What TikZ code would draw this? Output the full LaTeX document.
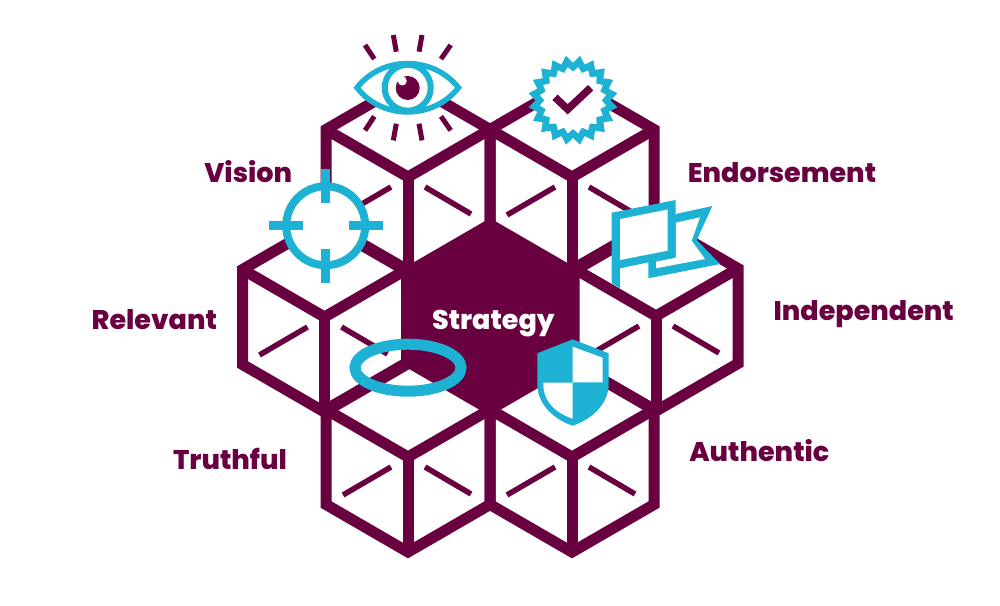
\documentclass[tikz,border=0pt]{standalone}
\usepackage{fontspec}
\setmainfont{Poppins}[BoldFont={Poppins ExtraBold}]
\usetikzlibrary{shapes.geometric}
\definecolor{plum}{RGB}{105,0,64}
\definecolor{skyblue}{RGB}{29,177,212}
\tikzset{
  cubeline/.style={plum, line width=11pt, line join=miter},
  tickline/.style={plum, line width=5.5pt},
  rayline/.style={plum, line width=5pt},
  iconring/.style={skyblue, line width=5.5pt},
  badgestar/.style={star, star points=20, shape border rotate=9, inner sep=0pt, outer sep=0pt},
  label/.style={plum, font=\bfseries\fontsize{27}{27}\selectfont, inner sep=0pt, anchor=base}
}
\begin{document}
\begin{tikzpicture}[x=1pt, y=-1pt]
  \useasboundingbox (0,0) rectangle (1000,605);

  % Middle hexagon
  \fill[plum] (490,222) -- (572,270) -- (572,364) -- (490,411) -- (408,364) -- (408,270) -- cycle;

  % Six cubes with the ticks on their faces
  \foreach \cx/\cy in {408/177, 572/177, 324.5/317, 656/316, 408/457, 572/457} {
    \draw[cubeline] (\cx,\cy-95) -- (\cx+82,\cy-47.5) -- (\cx+82,\cy+47.5) -- (\cx,\cy+95)
      -- (\cx-82,\cy+47.5) -- (\cx-82,\cy-47.5) -- cycle;
    \draw[cubeline] (\cx-82,\cy-47.5) -- (\cx,\cy) -- (\cx+82,\cy-47.5);
    \draw[cubeline] (\cx,\cy) -- (\cx,\cy+95);
    \draw[tickline] (\cx-17,\cy+10) -- (\cx-65,\cy+38);
    \draw[tickline] (\cx+17,\cy+10) -- (\cx+63,\cy+37);
  }

  % Eye
  \draw[iconring, fill=white] (357,87.7) .. controls (382,55.5) and (433,55.5) .. (458.5,87.7)
    .. controls (433,120) and (382,120) .. cycle;
  \draw[skyblue, line width=6pt, fill=white] (407.7,87.7) circle (23);
  \fill[plum] (407.7,88) circle (12);
  \fill[white] (402.3,81) circle (4.5);
  \foreach \ax/\ay/\bx/\by in {365/45/374.3/59, 393.3/35/396.3/51.7, 422/35/419/51.7, 450.7/45/441/59} {
    \draw[rayline] (\ax,\ay) -- (\bx,\by);
    \draw[rayline] (\ax,175.4-\ay) -- (\bx,175.4-\by);
  }

  % Badge with tick
  \node[badgestar, star point ratio=1.2, minimum size=90pt, fill=skyblue] (badgeout) at (573,100.3) {};
  \node[badgestar, star point ratio=1.17, minimum size=67pt, fill=white] (badgein) at (573,100.3) {};
  \draw[plum, line width=7.5pt] (555,97.3) -- (567.7,109.3) -- (590.7,87.7);

  % Crosshair
  \draw[skyblue, line width=8pt, fill=white] (325.7,225.7) circle (39.5);
  \foreach \a in {0,90,180,270} {
    \draw[skyblue, line width=8.5pt] (325.7,225.7) ++(\a:23) -- ++(\a:34);
  }

  % Flag
  \fill[skyblue] (675.7,214) -- (712.3,206) -- (696.7,240) -- (720,264) -- (648.3,278.3) -- (648.3,261.7) -- cycle;
  \fill[white] (675.7,222.7) -- (700,217.3) -- (691.7,240.7) -- (705,259) -- (656,268.3) -- (656,261.7) -- (675.7,257.7) -- cycle;
  \fill[skyblue] (611.7,212.7) -- (675.7,200) -- (675.7,256.7) -- (620,268.3) -- (620,288.3) -- (611.7,283.3) -- cycle;
  \fill[white] (620,219) -- (667.5,209.5) -- (667.5,250.7) -- (620,260) -- cycle;

  % Halo
  \draw[skyblue, line width=11pt] (408,367.7) ellipse (53 and 23.5);

  % Shield
  \fill[skyblue] (572.7,339.3) -- (608.7,353.3) -- (608.7,384) .. controls (608.7,405) and (590,420) .. (572.7,425.7)
    .. controls (555,420) and (537.3,405) .. (537.3,384) -- (537.3,353.3) -- cycle;
  \fill[white] (572.7,346.7) -- (602.7,357.7) -- (602.7,382.3) -- (572.7,382.3) -- cycle;
  \fill[white] (543.3,382.7) -- (572.7,382.7) -- (572.7,418.7) .. controls (556,413) and (543.3,402) .. (543.3,384) -- cycle;

  % Labels
  \node[label] (vision) at (248.2,182.3) {Vision};
  \node[label] (endorsement) at (782,182.3) {Endorsement};
  \node[label] (relevant) at (154.3,329) {Relevant};
  \node[label] (independent) at (863.7,320) {Independent};
  \node[label] (truthful) at (230,469) {Truthful};
  \node[label] (authentic) at (759.3,461) {Authentic};
  \node[label, white] (strategy) at (493.3,329.3) {Strategy};
\end{tikzpicture}
\end{document}
